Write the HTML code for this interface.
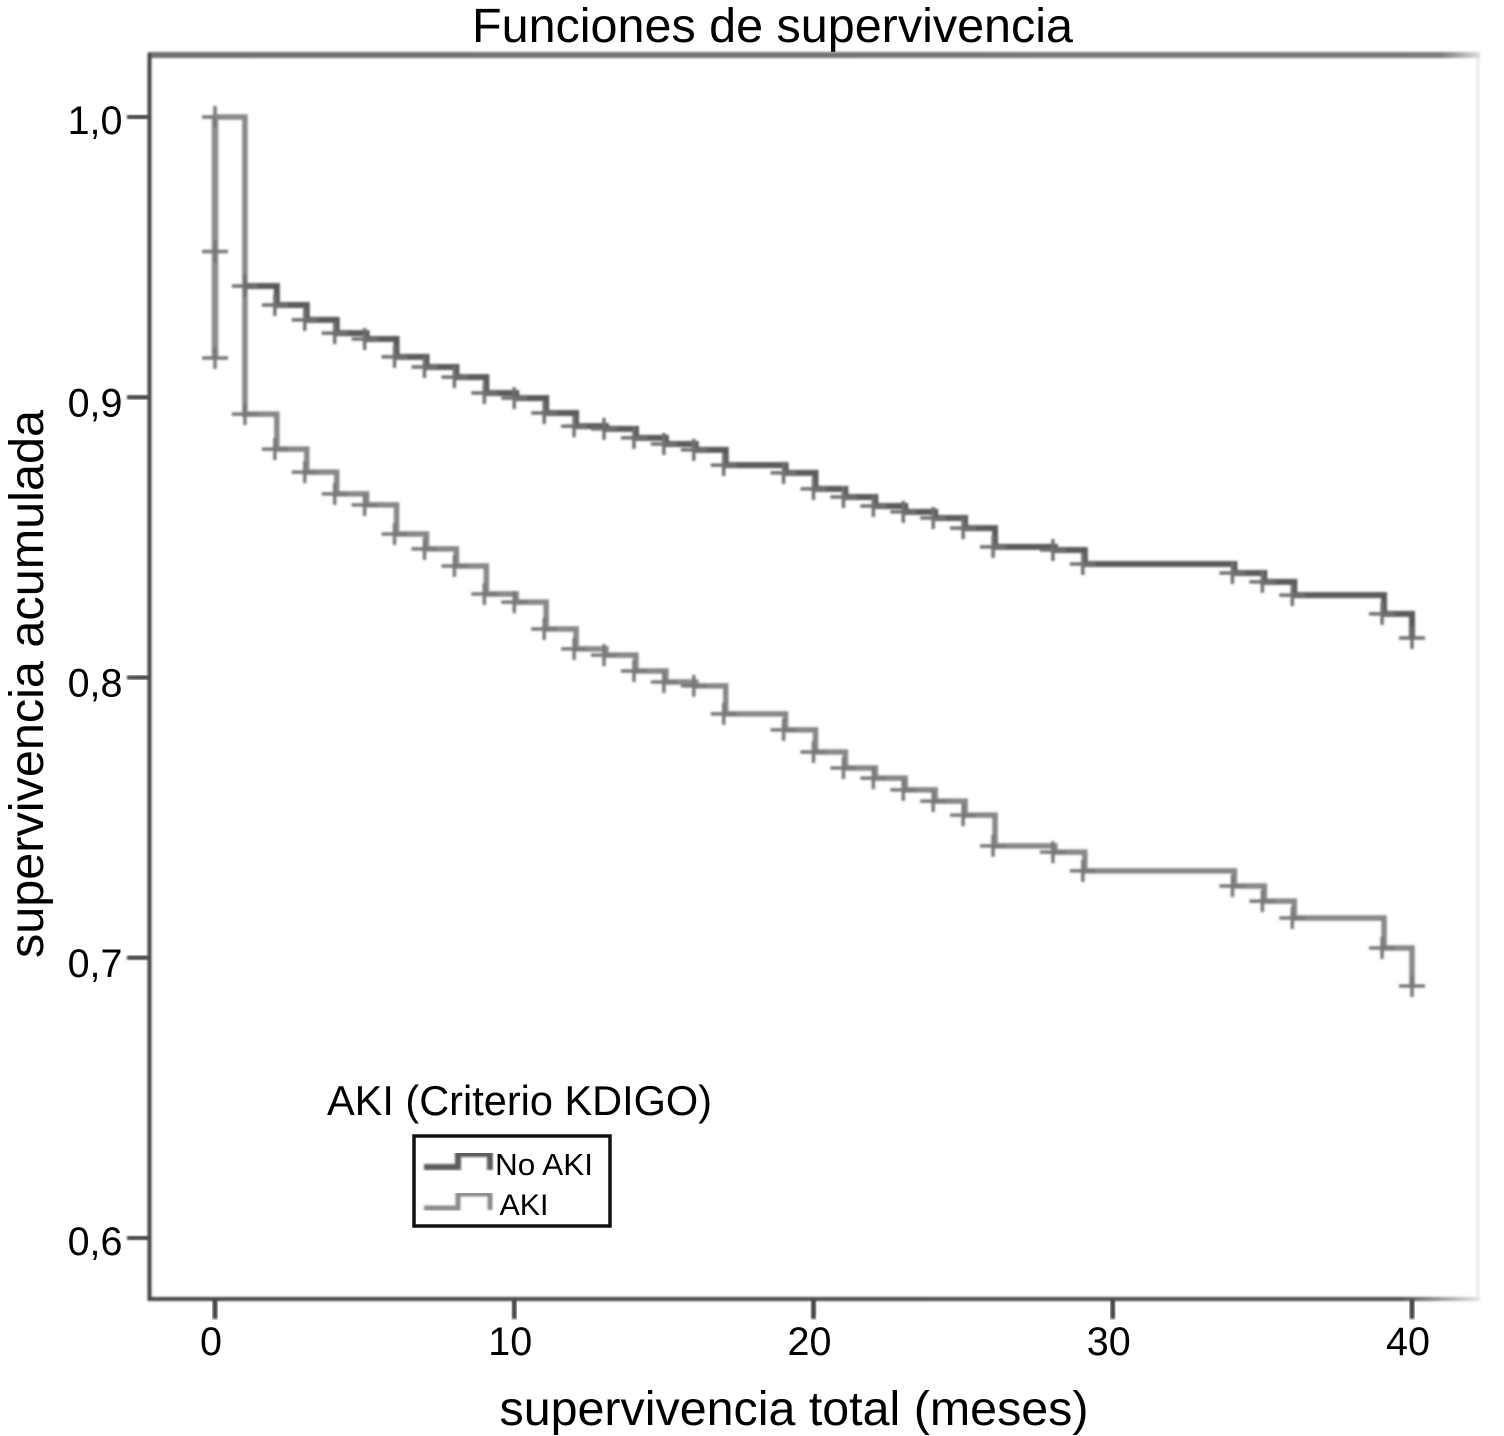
<!DOCTYPE html>
<html lang="es">
<head>
<meta charset="utf-8">
<title>Funciones de supervivencia</title>
<style>
html,body{margin:0;padding:0;background:#fff;}
body{width:1504px;height:1436px;overflow:hidden;}
svg{display:block;}
text{font-family:"Liberation Sans",Arial,sans-serif;fill:#000;}
</style>
</head>
<body>
<svg id="chart" xmlns="http://www.w3.org/2000/svg" width="1504" height="1436" viewBox="0 0 1504 1436">
  <defs>
    <filter id="soft" x="-5%" y="-5%" width="110%" height="110%"><feGaussianBlur stdDeviation="1"/></filter>
    <filter id="softText" x="-5%" y="-10%" width="110%" height="120%"><feGaussianBlur stdDeviation="0.3"/></filter>
    <linearGradient id="fadeTop" x1="0" x2="1" y1="0" y2="0">
      <stop offset="0" stop-color="#707070"/><stop offset="0.97" stop-color="#7a7a7a"/><stop offset="1" stop-color="#ddd"/>
    </linearGradient>
    <linearGradient id="fadeBottom" x1="0" x2="1" y1="0" y2="0">
      <stop offset="0" stop-color="#444"/><stop offset="0.94" stop-color="#4a4a4a"/><stop offset="1" stop-color="#e4e4e4"/>
    </linearGradient>
  </defs>
  <rect x="0" y="0" width="1504" height="1436" fill="#fff"/>
  <text filter="url(#softText)" x="772.5" y="42" font-size="48.5" text-anchor="middle" textLength="601" lengthAdjust="spacingAndGlyphs">Funciones de supervivencia</text>
  <g id="frame" filter="url(#soft)">
    <rect x="1476.5" y="55" width="2.5" height="1245" fill="#e6e6e6"/>
    <rect x="148" y="52" width="1332" height="6" fill="url(#fadeTop)"/>
    <rect x="147.5" y="53" width="4" height="1248" fill="#444"/>
    <rect x="148" y="1297" width="1332" height="4" fill="url(#fadeBottom)"/>
  </g>
  <g id="y-axis"></g>
  <g id="x-axis"></g>
  <g id="series" filter="url(#soft)"></g>
  <text filter="url(#softText)" x="794" y="1425" font-size="48.4" text-anchor="middle" textLength="589" lengthAdjust="spacingAndGlyphs">supervivencia total (meses)</text>
  <text filter="url(#softText)" transform="translate(43,684) rotate(-90)" x="0" y="0" font-size="48.5" text-anchor="middle" textLength="548" lengthAdjust="spacingAndGlyphs">supervivencia acumulada</text>
  <g>
    <text filter="url(#softText)" x="327" y="1115" font-size="41.5" textLength="385" lengthAdjust="spacingAndGlyphs">AKI (Criterio KDIGO)</text>
    <rect x="414" y="1136" width="196" height="90" fill="#fff" stroke="#111" stroke-width="3.5"/>
    <path filter="url(#soft)" d="M424 1167H458V1154H490V1170" fill="none" stroke="#5c5c5c" stroke-width="6"/>
    <text filter="url(#softText)" x="495" y="1175" font-size="30.5" textLength="98" lengthAdjust="spacingAndGlyphs">No AKI</text>
    <path filter="url(#soft)" d="M424 1208H458V1194H490V1210" fill="none" stroke="#8a8a8a" stroke-width="5"/>
    <text filter="url(#softText)" x="499.5" y="1215" font-size="30" textLength="49" lengthAdjust="spacingAndGlyphs">AKI</text>
  </g>
</svg>
<script>
const xTickValues = [0, 10, 20, 30, 40];
const yTickValues = [1.0, 0.9, 0.8, 0.7, 0.6];
const yTickLabels = ["1,0", "0,9", "0,8", "0,7", "0,6"];
const eventTimes = [1,2,3,4,5,6,7,8,9,10,11,12,13,14,15,16,17,19,20,21,22,23,24,25,26,28,29,34,35,36,39,40];
const noAkiSurvival = [0.9397,0.9329,0.9276,0.9229,0.9208,0.9144,0.9108,0.9072,0.9015,0.8997,0.8944,0.8897,0.8887,0.8855,0.8833,0.8812,0.8758,0.8730,0.8673,0.8644,0.8612,0.8591,0.8569,0.8533,0.8466,0.8455,0.8405,0.8373,0.8341,0.8294,0.8227,0.8141];
const akiSurvival = [0.8940,0.8815,0.8733,0.8655,0.8616,0.8512,0.8459,0.8398,0.8298,0.8269,0.8173,0.8102,0.8080,0.8023,0.7984,0.7970,0.7870,0.7813,0.7734,0.7677,0.7641,0.7599,0.7559,0.7509,0.7399,0.7377,0.7310,0.7256,0.7202,0.7142,0.7035,0.6899];
const earlyCensorValues = [1.0, 0.9520, 0.9140];

const NS = "http://www.w3.org/2000/svg";
function xScale(t) { return 215 + (1412 - 215) * t / 40; }
function yScale(v) { return 117 + (1 - v) * 2802.5; }
function make(tag, attrs, parent) {
  const el = document.createElementNS(NS, tag);
  for (const k in attrs) el.setAttribute(k, attrs[k]);
  parent.appendChild(el);
  return el;
}

const yAxis = document.getElementById("y-axis");
yTickValues.forEach(function (v, i) {
  const tick = make("rect", {x: 127, y: yScale(v) - 2.2, width: 22, height: 4.4, fill: "#444", filter: "url(#soft)"}, yAxis);
  
  
  const isOuterTick = i === 0 || i === yTickValues.length - 1;
  const label = make("text", {x: 122.5, y: yScale(v) + (isOuterTick ? 17 : 19), "font-size": 39.5, "text-anchor": "end", filter: "url(#softText)"}, yAxis);
  label.textContent = yTickLabels[i];
  
  
});

const xAxis = document.getElementById("x-axis");
xTickValues.forEach(function (t) {
  const tick = make("rect", {x: xScale(t) - 2.5, y: 1299, width: 5, height: 20, fill: "#444", filter: "url(#soft)"}, xAxis);
  
  
  const label = make("text", {x: xScale(t) - 4, y: 1355, "font-size": 39.5, "text-anchor": "middle", filter: "url(#softText)"}, xAxis);
  label.textContent = String(t);
  
  
});

const seriesGroup = document.getElementById("series");
function stepPath(times, values, startsAtOrigin) {
  let d = startsAtOrigin
    ? "M" + xScale(0) + " " + yScale(1) + "L" + xScale(times[0]) + " " + yScale(1) + "L" + xScale(times[0]) + " " + yScale(values[0])
    : "M" + xScale(times[0]) + " " + yScale(values[0]);
  for (let i = 1; i < times.length; i++) {
    const nudge = times[i] === 40 ? 0 : 2;
    const x = xScale(times[i]) + nudge;
    d += "L" + x + " " + yScale(values[i - 1]) + "L" + x + " " + yScale(values[i]);
  }
  return d;
}
function crossMark(t, v, color, width, parent) {
  const x = xScale(t), y = yScale(v);
  return make("path", {d: "M" + (x - 13) + " " + y + "H" + (x + 13) + "M" + x + " " + (y - 11) + "V" + (y + 11),
    fill: "none", stroke: color, "stroke-width": width}, parent);
}

const earlyLine = make("path", {
  d: "M" + xScale(0) + " " + yScale(earlyCensorValues[0]) + "V" + yScale(earlyCensorValues[earlyCensorValues.length - 1]),
  fill: "none", stroke: "#8c8c8c", "stroke-width": 6.5}, seriesGroup);


earlyCensorValues.forEach(function (v) {
  const m = crossMark(0, v, "#787878", 3.5, seriesGroup);
  
  
});

const akiLine = make("path", {d: stepPath(eventTimes, akiSurvival, true), fill: "none", stroke: "#888", "stroke-width": 5.5}, seriesGroup);


eventTimes.forEach(function (t, i) {
  const m = crossMark(t, akiSurvival[i], "#787878", 3.5, seriesGroup);
  
  
});

const noAkiLine = make("path", {d: stepPath(eventTimes, noAkiSurvival, false), fill: "none", stroke: "#5a5a5a", "stroke-width": 6}, seriesGroup);


eventTimes.forEach(function (t, i) {
  const m = crossMark(t, noAkiSurvival[i], "#707070", 3.5, seriesGroup);
  
  
});
</script>
</body>
</html>
